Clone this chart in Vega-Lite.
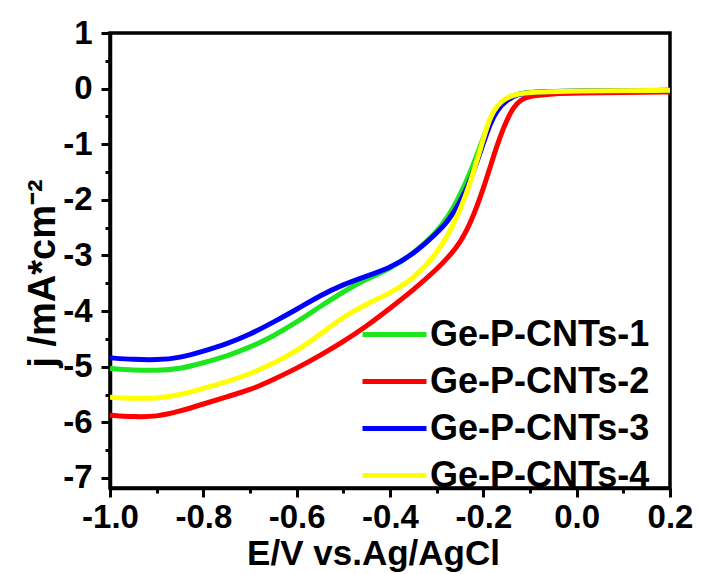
{
  "$schema": "https://vega.github.io/schema/vega-lite/v6.json",
  "width": 560,
  "height": 455,
  "autosize": "none",
  "padding": {"left": 110, "top": 33, "right": 31, "bottom": 86},
  "background": "white",
  "config": {
    "view": {"stroke": "black", "strokeWidth": 3.5},
    "font": "Liberation Sans",
    "axis": {
      "domainColor": "black", "domainWidth": 3.5, "tickColor": "black", "tickWidth": 3,
      "labelFont": "Liberation Sans", "labelFontWeight": "bold", "labelColor": "black", "labelFontSize": 33,
      "titleFont": "Liberation Sans", "titleFontWeight": "bold", "titleColor": "black",
      "grid": false
    }
  },
  "data": {"values": [
    {"s": "Ge-P-CNTs-1", "E": -1.0, "j": -5.03},
    {"s": "Ge-P-CNTs-1", "E": -0.95, "j": -5.06},
    {"s": "Ge-P-CNTs-1", "E": -0.9, "j": -5.07},
    {"s": "Ge-P-CNTs-1", "E": -0.85, "j": -5.04},
    {"s": "Ge-P-CNTs-1", "E": -0.8, "j": -4.93},
    {"s": "Ge-P-CNTs-1", "E": -0.75, "j": -4.81},
    {"s": "Ge-P-CNTs-1", "E": -0.7, "j": -4.65},
    {"s": "Ge-P-CNTs-1", "E": -0.65, "j": -4.45},
    {"s": "Ge-P-CNTs-1", "E": -0.6, "j": -4.2},
    {"s": "Ge-P-CNTs-1", "E": -0.55, "j": -3.92},
    {"s": "Ge-P-CNTs-1", "E": -0.5, "j": -3.65},
    {"s": "Ge-P-CNTs-1", "E": -0.45, "j": -3.42},
    {"s": "Ge-P-CNTs-1", "E": -0.4, "j": -3.24},
    {"s": "Ge-P-CNTs-1", "E": -0.35, "j": -2.97},
    {"s": "Ge-P-CNTs-1", "E": -0.3, "j": -2.58},
    {"s": "Ge-P-CNTs-1", "E": -0.275, "j": -2.3},
    {"s": "Ge-P-CNTs-1", "E": -0.25, "j": -1.92},
    {"s": "Ge-P-CNTs-1", "E": -0.225, "j": -1.45},
    {"s": "Ge-P-CNTs-1", "E": -0.2, "j": -0.88},
    {"s": "Ge-P-CNTs-1", "E": -0.185, "j": -0.55},
    {"s": "Ge-P-CNTs-1", "E": -0.17, "j": -0.32},
    {"s": "Ge-P-CNTs-1", "E": -0.15, "j": -0.17},
    {"s": "Ge-P-CNTs-1", "E": -0.125, "j": -0.09},
    {"s": "Ge-P-CNTs-1", "E": -0.1, "j": -0.06},
    {"s": "Ge-P-CNTs-1", "E": 0.0, "j": -0.04},
    {"s": "Ge-P-CNTs-1", "E": 0.2, "j": -0.03},

    {"s": "Ge-P-CNTs-2", "E": -1.0, "j": -5.87},
    {"s": "Ge-P-CNTs-2", "E": -0.95, "j": -5.9},
    {"s": "Ge-P-CNTs-2", "E": -0.9, "j": -5.9},
    {"s": "Ge-P-CNTs-2", "E": -0.85, "j": -5.8},
    {"s": "Ge-P-CNTs-2", "E": -0.8, "j": -5.67},
    {"s": "Ge-P-CNTs-2", "E": -0.75, "j": -5.54},
    {"s": "Ge-P-CNTs-2", "E": -0.7, "j": -5.42},
    {"s": "Ge-P-CNTs-2", "E": -0.65, "j": -5.23},
    {"s": "Ge-P-CNTs-2", "E": -0.6, "j": -5.03},
    {"s": "Ge-P-CNTs-2", "E": -0.55, "j": -4.8},
    {"s": "Ge-P-CNTs-2", "E": -0.5, "j": -4.55},
    {"s": "Ge-P-CNTs-2", "E": -0.45, "j": -4.27},
    {"s": "Ge-P-CNTs-2", "E": -0.4, "j": -3.95},
    {"s": "Ge-P-CNTs-2", "E": -0.35, "j": -3.62},
    {"s": "Ge-P-CNTs-2", "E": -0.3, "j": -3.25},
    {"s": "Ge-P-CNTs-2", "E": -0.275, "j": -3.03},
    {"s": "Ge-P-CNTs-2", "E": -0.25, "j": -2.78},
    {"s": "Ge-P-CNTs-2", "E": -0.225, "j": -2.38},
    {"s": "Ge-P-CNTs-2", "E": -0.2, "j": -1.8},
    {"s": "Ge-P-CNTs-2", "E": -0.185, "j": -1.4},
    {"s": "Ge-P-CNTs-2", "E": -0.17, "j": -1.0},
    {"s": "Ge-P-CNTs-2", "E": -0.15, "j": -0.56},
    {"s": "Ge-P-CNTs-2", "E": -0.135, "j": -0.33},
    {"s": "Ge-P-CNTs-2", "E": -0.12, "j": -0.2},
    {"s": "Ge-P-CNTs-2", "E": -0.1, "j": -0.13},
    {"s": "Ge-P-CNTs-2", "E": -0.05, "j": -0.09},
    {"s": "Ge-P-CNTs-2", "E": 0.0, "j": -0.08},
    {"s": "Ge-P-CNTs-2", "E": 0.1, "j": -0.07},
    {"s": "Ge-P-CNTs-2", "E": 0.2, "j": -0.06},

    {"s": "Ge-P-CNTs-3", "E": -1.0, "j": -4.84},
    {"s": "Ge-P-CNTs-3", "E": -0.95, "j": -4.87},
    {"s": "Ge-P-CNTs-3", "E": -0.9, "j": -4.88},
    {"s": "Ge-P-CNTs-3", "E": -0.85, "j": -4.84},
    {"s": "Ge-P-CNTs-3", "E": -0.8, "j": -4.72},
    {"s": "Ge-P-CNTs-3", "E": -0.75, "j": -4.59},
    {"s": "Ge-P-CNTs-3", "E": -0.7, "j": -4.42},
    {"s": "Ge-P-CNTs-3", "E": -0.65, "j": -4.2},
    {"s": "Ge-P-CNTs-3", "E": -0.6, "j": -3.97},
    {"s": "Ge-P-CNTs-3", "E": -0.55, "j": -3.72},
    {"s": "Ge-P-CNTs-3", "E": -0.5, "j": -3.52},
    {"s": "Ge-P-CNTs-3", "E": -0.45, "j": -3.37},
    {"s": "Ge-P-CNTs-3", "E": -0.4, "j": -3.22},
    {"s": "Ge-P-CNTs-3", "E": -0.35, "j": -2.98},
    {"s": "Ge-P-CNTs-3", "E": -0.3, "j": -2.6},
    {"s": "Ge-P-CNTs-3", "E": -0.275, "j": -2.38},
    {"s": "Ge-P-CNTs-3", "E": -0.25, "j": -2.05},
    {"s": "Ge-P-CNTs-3", "E": -0.225, "j": -1.6},
    {"s": "Ge-P-CNTs-3", "E": -0.2, "j": -0.98},
    {"s": "Ge-P-CNTs-3", "E": -0.185, "j": -0.62},
    {"s": "Ge-P-CNTs-3", "E": -0.17, "j": -0.38},
    {"s": "Ge-P-CNTs-3", "E": -0.15, "j": -0.2},
    {"s": "Ge-P-CNTs-3", "E": -0.125, "j": -0.1},
    {"s": "Ge-P-CNTs-3", "E": -0.1, "j": -0.06},
    {"s": "Ge-P-CNTs-3", "E": 0.0, "j": -0.04},
    {"s": "Ge-P-CNTs-3", "E": 0.2, "j": -0.03},

    {"s": "Ge-P-CNTs-4", "E": -1.0, "j": -5.55},
    {"s": "Ge-P-CNTs-4", "E": -0.95, "j": -5.57},
    {"s": "Ge-P-CNTs-4", "E": -0.9, "j": -5.57},
    {"s": "Ge-P-CNTs-4", "E": -0.85, "j": -5.51},
    {"s": "Ge-P-CNTs-4", "E": -0.8, "j": -5.39},
    {"s": "Ge-P-CNTs-4", "E": -0.75, "j": -5.27},
    {"s": "Ge-P-CNTs-4", "E": -0.7, "j": -5.13},
    {"s": "Ge-P-CNTs-4", "E": -0.65, "j": -4.94},
    {"s": "Ge-P-CNTs-4", "E": -0.6, "j": -4.72},
    {"s": "Ge-P-CNTs-4", "E": -0.55, "j": -4.42},
    {"s": "Ge-P-CNTs-4", "E": -0.5, "j": -4.1},
    {"s": "Ge-P-CNTs-4", "E": -0.45, "j": -3.87},
    {"s": "Ge-P-CNTs-4", "E": -0.4, "j": -3.68},
    {"s": "Ge-P-CNTs-4", "E": -0.35, "j": -3.42},
    {"s": "Ge-P-CNTs-4", "E": -0.3, "j": -2.97},
    {"s": "Ge-P-CNTs-4", "E": -0.275, "j": -2.62},
    {"s": "Ge-P-CNTs-4", "E": -0.25, "j": -2.2},
    {"s": "Ge-P-CNTs-4", "E": -0.225, "j": -1.62},
    {"s": "Ge-P-CNTs-4", "E": -0.2, "j": -0.9},
    {"s": "Ge-P-CNTs-4", "E": -0.185, "j": -0.5},
    {"s": "Ge-P-CNTs-4", "E": -0.17, "j": -0.3},
    {"s": "Ge-P-CNTs-4", "E": -0.155, "j": -0.19},
    {"s": "Ge-P-CNTs-4", "E": -0.135, "j": -0.11},
    {"s": "Ge-P-CNTs-4", "E": -0.1, "j": -0.06},
    {"s": "Ge-P-CNTs-4", "E": 0.0, "j": -0.04},
    {"s": "Ge-P-CNTs-4", "E": 0.2, "j": -0.03}
  ]},
  "mark": {"type": "line", "strokeWidth": 5, "clip": true, "interpolate": "basis"},
  "encoding": {
    "x": {
      "field": "E", "type": "quantitative",
      "scale": {"domain": [-1.0, 0.2], "nice": false, "zero": false},
      "axis": {
        "title": "E/V vs.Ag/AgCl",
        "titleFontSize": 35,
        "titleX": 263, "titleY": 76, "titleBaseline": "alphabetic", "titleAlign": "center",
        "values": [-1.0, -0.9, -0.8, -0.7, -0.6, -0.5, -0.4, -0.3, -0.2, -0.1, 0.0, 0.1, 0.2],
        "labelExpr": "abs(round(datum.value*10)) % 2 === 0 ? replace(format(datum.value, '.1f'), '\u2212', '-') : ''",
        "tickSize": {"condition": {"test": "abs(round(datum.value*10)) % 2 === 0", "value": 9}, "value": 5},
        "labelPadding": 4,
        "labelFlush": false,
        "labelOverlap": false
      }
    },
    "y": {
      "field": "j", "type": "quantitative",
      "scale": {"domain": [-7.18, 1], "nice": false, "zero": false},
      "axis": {
        "title": "j /mA*cm\u207b\u00b2",
        "titleFontSize": 38,
        "titleX": -56, "titleY": 240, "titleBaseline": "alphabetic", "titleAlign": "center", "titleAngle": 270,
        "values": [-7, -6.5, -6, -5.5, -5, -4.5, -4, -3.5, -3, -2.5, -2, -1.5, -1, -0.5, 0, 0.5, 1],
        "labelExpr": "datum.value % 1 === 0 ? replace(format(datum.value, 'd'), '\u2212', '-') : ''",
        "tickSize": {"condition": {"test": "datum.value % 1 === 0", "value": 9}, "value": 5},
        "labelPadding": 9,
        "labelFlush": false,
        "labelOverlap": false
      }
    },
    "color": {
      "field": "s", "type": "nominal",
      "scale": {
        "domain": ["Ge-P-CNTs-1", "Ge-P-CNTs-2", "Ge-P-CNTs-3", "Ge-P-CNTs-4"],
        "range": ["#1ee61e", "#ff0000", "#0000ff", "#ffff00"]
      },
      "legend": {
        "orient": "none", "legendX": 250, "legendY": 278, "title": null,
        "symbolType": "stroke", "symbolSize": 4096, "symbolStrokeWidth": 5,
        "labelFont": "Liberation Sans", "labelFontWeight": "bold", "labelFontSize": 36, "labelColor": "black",
        "labelOffset": 1, "rowPadding": 0, "clipHeight": 47, "padding": 0, "labelLimit": 400
      }
    }
  }
}
